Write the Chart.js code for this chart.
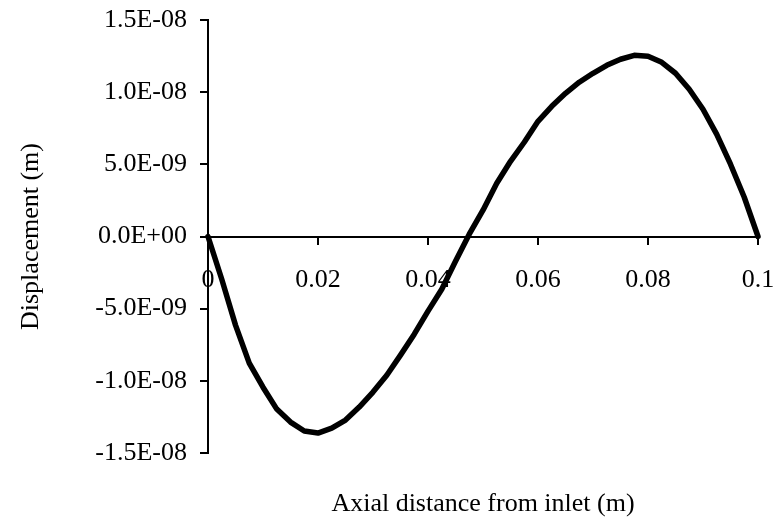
<!doctype html>
<html lang="en">
<head>
<meta charset="utf-8">
<title>Displacement along the duct</title>
<script src="https://cdn.jsdelivr.net/npm/chart.js@4.4.1/dist/chart.umd.min.js"></script>
<style>
  html, body { margin: 0; padding: 0; background: #fff; }
  #wrap { width: 780px; height: 520px; }
</style>
</head>
<body>
<div id="wrap"><canvas id="disp" width="780" height="520"></canvas></div>
<script>
  // axial position (m) and displacement (m) at each station
  const axialPos = [
    0, 0.0025, 0.005, 0.0075, 0.01, 0.0125, 0.015, 0.0175, 0.02, 0.0225,
    0.025, 0.0275, 0.03, 0.0325, 0.035, 0.0375, 0.04, 0.0425, 0.045, 0.0475,
    0.05, 0.0525, 0.055, 0.0575, 0.06, 0.0625, 0.065, 0.0675, 0.07, 0.0725,
    0.075, 0.0775, 0.08, 0.0825, 0.085, 0.0875, 0.09, 0.0925, 0.095, 0.0975, 0.1
  ];
  const displacement = [
    0, -2.96e-9, -6.14e-9, -8.77e-9, -10.44e-9, -11.96e-9, -12.86e-9, -13.48e-9, -13.62e-9, -13.28e-9,
    -12.72e-9, -11.82e-9, -10.78e-9, -9.61e-9, -8.22e-9, -6.77e-9, -5.17e-9, -3.65e-9, -1.71e-9, 0.16e-9,
    1.82e-9, 3.69e-9, 5.21e-9, 6.53e-9, 7.98e-9, 9.02e-9, 9.92e-9, 10.69e-9, 11.31e-9, 11.86e-9,
    12.28e-9, 12.55e-9, 12.49e-9, 12.07e-9, 11.31e-9, 10.20e-9, 8.82e-9, 7.08e-9, 5.01e-9, 2.72e-9, 0
  ];

  const xTickVals = [0, 0.02, 0.04, 0.06, 0.08, 0.1];
  const xTickLabels = ['0', '0.02', '0.04', '0.06', '0.08', '0.1'];
  const yTickVals = [-1.5e-8, -1e-8, -5e-9, 0, 5e-9, 1e-8, 1.5e-8];
  const yTickLabels = ['-1.5E-08', '-1.0E-08', '-5.0E-09', '0.0E+00', '5.0E-09', '1.0E-08', '1.5E-08'];

  const serif = '"Liberation Serif", "Times New Roman", serif';
  const fontSize = 26;

  // x title sits under the plot, centred on the plot area
  const xTitle = {
    id: 'xTitle',
    afterDraw(chart) {
      const { ctx, chartArea } = chart;
      ctx.save();
      ctx.font = fontSize + 'px ' + serif;
      ctx.fillStyle = '#000';
      ctx.textAlign = 'center';
      ctx.textBaseline = 'alphabetic';
      ctx.fillText('Axial distance from inlet (m)', (chartArea.left + chartArea.right) / 2, chartArea.bottom + 58);
      ctx.restore();
    }
  };

  // keep tick label overhang from pushing the plot area around
  const noOverhang = s => {
    s.paddingTop = 0;
    s.paddingBottom = 0;
    s.paddingLeft = 0;
    s.paddingRight = 0;
  };

  new Chart(document.getElementById('disp'), {
    type: 'line',
    data: {
      datasets: [{
        data: axialPos.map((x, i) => ({ x: x, y: displacement[i] })),
        borderColor: '#000',
        borderWidth: 5.5,
        borderJoinStyle: 'round',
        borderCapStyle: 'round',
        pointRadius: 0,
        tension: 0,
        fill: false,
        clip: false
      }]
    },
    options: {
      responsive: false,
      animation: false,
      layout: { padding: { top: 20, bottom: 67, left: 0, right: 22 } },
      plugins: { legend: { display: false }, tooltip: { enabled: false } },
      scales: {
        x: {
          type: 'linear',
          min: 0,
          max: 0.1,
          position: { y: 0 },
          afterBuildTicks: s => { s.ticks = xTickVals.map(v => ({ value: v })); },
          afterFit: noOverhang,
          ticks: {
            color: '#000',
            font: { family: serif, size: fontSize },
            padding: 21,
            maxRotation: 0,
            autoSkip: false,
            callback: (v, i) => xTickLabels[i]
          },
          grid: { display: true, drawOnChartArea: false, drawTicks: true, tickLength: 7, color: '#000', lineWidth: 2 },
          border: { display: true, color: '#000', width: 2 }
        },
        y: {
          type: 'linear',
          min: -1.5e-8,
          max: 1.5e-8,
          afterBuildTicks: s => { s.ticks = yTickVals.map(v => ({ value: v })); },
          afterFit: s => { s.width = 208; noOverhang(s); },
          ticks: {
            color: '#000',
            font: { family: serif, size: fontSize },
            padding: 13,
            autoSkip: false,
            callback: (v, i) => yTickLabels[i]
          },
          grid: { display: true, drawOnChartArea: false, drawTicks: true, tickLength: 8, color: '#000', lineWidth: 2 },
          border: { display: true, color: '#000', width: 2 },
          title: {
            display: true,
            text: 'Displacement (m)',
            color: '#000',
            font: { family: serif, size: fontSize },
            padding: { top: 16, bottom: 0 }
          }
        }
      }
    },
    plugins: [xTitle]
  });
</script>
</body>
</html>
